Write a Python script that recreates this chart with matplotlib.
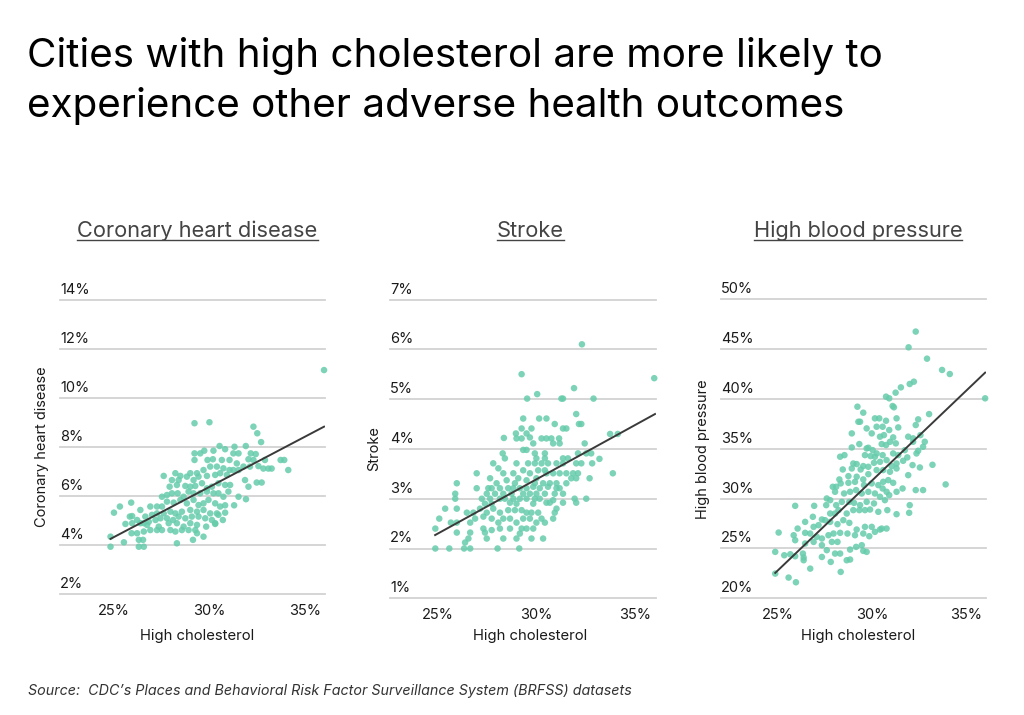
import numpy as np
import matplotlib
matplotlib.use("Agg")
import matplotlib.pyplot as plt
import matplotlib.transforms as mtransforms
from matplotlib.lines import Line2D

plt.rcParams['font.family'] = ['Inter', 'DejaVu Sans']

W, H = 1024, 715

# ---- data (high cholesterol %, outcome %) ----
chd_pts = [
    (36.00, 11.14), (29.23, 8.97), (30.01, 9.01), (32.31, 8.83), (32.51, 8.56), (32.71, 8.20),
    (31.91, 8.04), (31.32, 8.01), (30.83, 7.91), (30.54, 8.04), (30.22, 7.85), (29.74, 7.85),
    (29.53, 7.74), (29.23, 7.74), (31.53, 7.74), (31.26, 7.74), (32.17, 7.74), (32.43, 7.71),
    (32.05, 7.50), (32.31, 7.47), (32.91, 7.47), (33.73, 7.47), (33.92, 7.47), (34.13, 7.06),
    (29.23, 7.47), (29.91, 7.47), (30.19, 7.50), (30.66, 7.47), (31.06, 7.47), (31.44, 7.33),
    (31.79, 7.20), (32.13, 7.20), (32.57, 7.22), (32.83, 7.12), (33.09, 7.12), (33.26, 7.12),
    (28.23, 6.93), (28.49, 6.82), (29.01, 6.93), (29.36, 6.93), (29.70, 7.06), (30.05, 7.20),
    (30.40, 7.20), (30.74, 7.13), (31.06, 7.06), (31.26, 7.06), (31.53, 7.06),
    (27.62, 6.82), (28.05, 6.65), (28.40, 6.65), (28.83, 6.79), (29.18, 6.65), (29.44, 6.79),
    (29.88, 6.82), (30.31, 6.86), (30.57, 6.93), (30.92, 6.86),
    (27.93, 6.38), (28.31, 6.45), (28.75, 6.41), (29.01, 6.38), (29.27, 6.41), (29.62, 6.52),
    (29.88, 6.31), (30.14, 6.38), (30.48, 6.52), (30.83, 6.45), (31.09, 6.45), (31.87, 6.65),
    (32.05, 6.38), (32.48, 6.55), (32.74, 6.55),
    (27.53, 5.97), (27.79, 6.04), (28.05, 6.11), (28.35, 6.11), (28.66, 5.97), (28.92, 6.18),
    (29.18, 6.11), (29.53, 6.11), (29.88, 6.18), (30.22, 6.11), (30.48, 6.11), (30.74, 5.97),
    (31.00, 6.18), (31.53, 5.97), (31.92, 5.87), (31.30, 5.62),
    (26.92, 5.57), (27.27, 5.57), (27.53, 5.57), (27.79, 5.77), (28.14, 5.73), (28.49, 5.84),
    (28.83, 5.70), (29.18, 5.84), (29.44, 5.63), (29.70, 5.70), (29.96, 5.84), (30.31, 5.70),
    (30.57, 5.57), (30.83, 5.62),
    (25.92, 5.73), (25.33, 5.57), (25.02, 5.32), (26.40, 5.43), (26.66, 5.16), (27.01, 5.23),
    (27.27, 5.29), (27.62, 5.29), (27.97, 5.36), (28.23, 5.29), (28.57, 5.36), (29.01, 5.43),
    (29.36, 5.36), (29.70, 5.43), (30.05, 5.29), (30.40, 5.29), (30.83, 5.32),
    (25.85, 5.16), (25.97, 5.18), (26.23, 5.02), (26.58, 4.89), (26.84, 4.95), (27.19, 5.02),
    (27.45, 5.09), (27.79, 5.09), (28.11, 5.02), (28.40, 5.16), (28.75, 5.09), (29.09, 5.16),
    (29.44, 5.16), (29.79, 5.09), (30.14, 5.02), (30.48, 5.23), (30.71, 5.02),
    (25.62, 4.86), (25.97, 4.89), (26.40, 4.89), (26.75, 4.82), (27.36, 4.75), (27.88, 4.89),
    (28.31, 4.89), (28.66, 4.75), (29.01, 4.89), (29.36, 4.82), (29.84, 4.75), (30.31, 4.86),
    (24.84, 4.34), (25.94, 4.48), (26.23, 4.48), (26.58, 4.55), (26.92, 4.61), (27.27, 4.61),
    (27.53, 4.61), (27.97, 4.61), (28.23, 4.55), (28.57, 4.61), (28.92, 4.61), (29.27, 4.61),
    (29.36, 4.48),
    (24.84, 3.93), (25.54, 4.11), (26.32, 4.21), (26.54, 4.21), (26.32, 3.93), (26.58, 3.93),
    (28.31, 4.07), (29.15, 4.21), (29.70, 4.34), (30.31, 4.89),
]

stroke_pts = [
    (32.29, 6.10), (35.96, 5.42), (29.23, 5.50), (30.02, 5.10), (29.51, 5.01), (31.25, 5.01),
    (31.33, 5.01), (31.89, 5.22), (32.88, 5.01), (32.00, 4.70), (32.26, 4.50), (32.14, 4.50),
    (30.91, 4.50), (31.33, 4.41), (31.50, 4.41), (29.31, 4.61), (30.12, 4.61), (30.49, 4.61),
    (29.23, 4.41), (29.73, 4.41), (28.94, 4.31), (29.48, 4.31), (29.65, 4.23), (28.33, 4.22),
    (28.97, 4.21), (29.23, 4.21), (30.24, 4.21), (30.49, 4.21), (30.74, 4.21), (31.13, 4.21),
    (30.83, 4.11), (29.82, 4.11), (31.16, 4.11), (33.72, 4.30), (34.11, 4.30),
    (29.31, 3.98), (29.48, 3.98), (28.27, 3.91), (28.38, 3.81), (29.90, 3.91), (30.41, 3.91),
    (29.98, 3.81), (30.41, 3.81), (31.33, 3.81), (31.58, 3.81), (32.09, 3.91), (32.43, 4.11),
    (32.51, 3.91), (32.76, 3.91), (33.18, 3.80), (27.79, 3.71), (28.05, 3.61), (28.97, 3.71),
    (29.56, 3.71), (29.90, 3.71), (30.24, 3.71), (30.57, 3.71), (31.00, 3.71), (31.33, 3.71),
    (32.00, 3.71), (32.26, 3.71), (32.81, 3.71), (33.86, 3.51),
    (26.95, 3.51), (27.63, 3.41), (28.30, 3.51), (28.81, 3.51), (29.31, 3.57), (29.65, 3.51),
    (30.07, 3.57), (30.41, 3.57), (30.49, 3.51), (30.83, 3.51), (31.16, 3.51), (31.50, 3.51),
    (31.84, 3.51), (32.09, 3.51), (29.98, 3.41), (29.06, 3.41), (29.48, 3.37), (28.47, 3.37),
    (27.96, 3.31), (28.89, 3.31), (29.90, 3.31), (30.32, 3.31), (30.66, 3.31), (31.00, 3.31),
    (31.50, 3.31), (31.75, 3.41), (32.00, 3.41), (32.68, 3.41),
    (25.94, 3.31), (26.95, 3.21), (27.54, 3.21), (27.71, 3.21), (28.13, 3.21), (28.55, 3.21),
    (28.81, 3.21), (29.14, 3.21), (29.48, 3.21), (29.82, 3.24), (30.15, 3.21), (30.57, 3.24),
    (31.00, 3.21), (31.16, 3.21), (25.86, 3.10), (27.46, 3.10), (27.88, 3.10), (28.30, 3.10),
    (28.72, 3.10), (29.31, 3.10), (29.65, 3.10), (29.98, 3.10), (30.41, 3.10), (30.91, 3.10),
    (31.33, 3.10),
    (25.86, 3.00), (27.21, 3.00), (27.63, 3.00), (28.13, 3.00), (28.38, 3.00), (28.81, 3.00),
    (29.14, 3.00), (29.48, 3.00), (29.90, 3.00), (30.15, 3.00), (30.49, 2.92), (30.83, 2.97),
    (31.33, 2.92), (31.92, 3.00), (32.51, 3.00), (32.00, 2.92), (27.37, 2.90), (27.71, 2.90),
    (28.64, 2.92), (28.97, 2.90), (29.82, 2.90), (30.66, 2.92),
    (25.35, 2.80), (25.94, 2.80), (26.45, 2.72), (26.78, 2.72), (27.12, 2.80), (27.46, 2.72),
    (27.79, 2.80), (28.13, 2.72), (28.55, 2.77), (28.89, 2.77), (29.23, 2.77), (29.48, 2.72),
    (29.73, 2.72), (30.07, 2.72), (30.91, 2.72), (31.00, 2.80),
    (25.05, 2.60), (25.64, 2.52), (25.94, 2.52), (26.62, 2.52), (26.87, 2.60), (27.29, 2.64),
    (27.71, 2.60), (28.05, 2.52), (28.30, 2.60), (28.64, 2.60), (28.97, 2.52), (29.31, 2.60),
    (29.65, 2.60), (29.98, 2.52), (30.41, 2.52), (30.83, 2.60), (30.24, 2.60),
    (24.85, 2.40), (25.94, 2.32), (26.62, 2.32), (27.29, 2.40), (27.71, 2.37), (27.37, 2.32),
    (28.13, 2.40), (28.64, 2.40), (29.23, 2.40), (29.48, 2.40), (29.82, 2.40),
    (26.53, 2.20), (26.36, 2.12), (27.46, 2.20), (28.30, 2.20), (28.97, 2.20), (29.14, 2.30),
    (29.73, 2.20), (30.32, 2.20),
    (24.85, 2.00), (25.56, 2.00), (26.31, 2.00), (26.62, 2.00), (28.01, 2.00), (29.11, 2.00),
]

hbp_pts = [
    (32.31, 46.77), (31.93, 45.19), (32.91, 44.05), (33.71, 42.92), (34.12, 42.51), (36.00, 40.07),
    (32.21, 41.74), (31.99, 41.51), (31.52, 41.17), (31.24, 40.64), (30.73, 40.24), (30.90, 40.07),
    (31.08, 39.30), (31.15, 39.17), (29.21, 39.23), (29.52, 38.63), (29.26, 37.72), (29.35, 37.72),
    (30.14, 38.06), (30.37, 38.06), (30.73, 37.82), (31.29, 38.06), (33.02, 38.49), (32.44, 37.96),
    (32.31, 37.39), (29.70, 37.05), (30.23, 37.22), (30.55, 37.22), (30.90, 36.89), (31.38, 37.15),
    (28.91, 36.55), (29.97, 36.55), (30.41, 36.22), (30.62, 36.38), (31.11, 36.15), (31.91, 36.22),
    (32.17, 35.71), (32.56, 36.38), (32.79, 35.71), (32.70, 35.21),
    (28.91, 35.14), (29.31, 35.48), (29.70, 35.04), (29.79, 35.11), (30.02, 34.87), (30.23, 34.54),
    (30.50, 35.48), (30.73, 35.38), (30.94, 35.71), (31.25, 35.55), (32.17, 36.05),
    (28.29, 34.21), (28.52, 34.37), (29.61, 34.37), (29.91, 34.27), (30.14, 34.21), (30.55, 34.37),
    (31.11, 34.54), (31.38, 34.37), (31.73, 34.87), (31.86, 34.14), (32.35, 34.54), (32.44, 34.81),
    (28.99, 33.53), (29.17, 33.47), (29.52, 33.27), (29.79, 33.20), (30.09, 33.60), (30.41, 33.70),
    (30.76, 33.87), (31.03, 33.27), (31.29, 33.53), (31.64, 33.80), (32.14, 33.37), (32.53, 33.13),
    (33.20, 33.40),
    (28.43, 32.93), (28.91, 33.03), (29.38, 32.93), (29.79, 32.46), (30.23, 32.87), (30.58, 32.87),
    (30.94, 32.70), (31.29, 33.03), (31.91, 32.36), (28.73, 32.26), (28.25, 31.93), (29.17, 32.20),
    (29.52, 31.93),
    (27.90, 31.19), (28.08, 31.19), (28.32, 31.53), (28.73, 31.59), (29.08, 31.69), (29.56, 31.36),
    (29.97, 31.53), (30.32, 31.36), (30.58, 31.69), (30.85, 31.86), (31.11, 31.59), (32.70, 30.86),
    (33.90, 31.43),
    (27.58, 30.02), (27.76, 29.85), (28.02, 30.69), (28.50, 30.52), (28.82, 30.69), (29.14, 30.86),
    (29.44, 30.52), (29.79, 30.69), (30.14, 30.52), (30.55, 31.02), (30.76, 30.69), (31.29, 30.69),
    (31.61, 31.02), (32.31, 30.86),
    (27.55, 29.35), (28.08, 29.35), (28.38, 29.68), (28.78, 29.68), (29.03, 29.58), (29.35, 29.35),
    (29.70, 29.68), (30.09, 29.52), (30.41, 30.19), (30.67, 29.85), (30.90, 30.35), (25.90, 29.28),
    (26.91, 29.28),
    (26.43, 27.67), (26.84, 28.18), (27.32, 27.91), (27.76, 28.51), (28.02, 28.51), (28.20, 28.85),
    (28.64, 28.51), (28.99, 28.85), (29.31, 28.85), (29.61, 28.85), (29.88, 28.91), (30.32, 28.68),
    (30.80, 28.85), (31.29, 28.44), (31.96, 28.58), (31.99, 29.35),
    (26.03, 27.00), (26.88, 27.17), (27.14, 27.34), (27.49, 27.84), (27.76, 27.67), (28.15, 27.44),
    (28.46, 27.84), (28.78, 27.57), (29.17, 26.90), (29.61, 27.17), (29.97, 27.17), (30.41, 26.90),
    (30.76, 27.00),
    (25.02, 26.60), (25.82, 26.33), (25.90, 25.83), (26.43, 26.57), (26.70, 26.50), (27.05, 26.17),
    (27.32, 26.00), (27.67, 26.33), (27.94, 26.50), (28.29, 26.57), (28.68, 26.50), (29.08, 26.33),
    (29.52, 26.50), (29.84, 26.23), (30.14, 26.67), (30.50, 27.00),
    (26.43, 25.50), (26.88, 25.66), (27.32, 25.33), (27.85, 25.66), (28.15, 25.66), (28.82, 24.89),
    (29.14, 25.16), (29.44, 25.33), (29.52, 24.76), (29.70, 24.66), (27.58, 24.83), (28.02, 24.49),
    (28.29, 24.49),
    (24.84, 24.66), (25.32, 24.32), (25.64, 24.42), (26.31, 24.49), (26.35, 24.09), (27.32, 24.15),
    (28.64, 23.82), (28.82, 23.89), (27.79, 23.65), (26.70, 22.98), (28.32, 22.65),
    (24.84, 22.48), (25.55, 22.08), (25.94, 21.61), (26.35, 23.82), (25.90, 24.22),
]

# trend lines as drawn in the picture (endpoints at min / max cholesterol)
fit_x = [24.84, 36.0]
chd_fit = [4.25, 8.83]
stroke_fit = [2.27, 4.70]
hbp_fit = [22.55, 42.65]

x_ticks = [25, 30, 35]
chd_ticks = [2, 4, 6, 8, 10, 12, 14]
stroke_ticks = [1, 2, 3, 4, 5, 6, 7]
hbp_ticks = [20, 25, 30, 35, 40, 45, 50]

titles = ['Coronary heart disease', 'Stroke', 'High blood pressure']
xlabel = 'High cholesterol'

DOT = '#66ccab'
GRID = '#d2d2d2'
TXT = '#1a1a1a'
SUB = '#444444'


def fx(px):
    return px / W


def fy(py):
    return 1 - py / H


panels = [
    dict(pts=chd_pts, fit=chd_fit, ticks=chd_ticks, title=titles[0],
         box=(60, 325, 300, 594), xlim=(22.2, 36.05), cx=197.5, ylab_x=42),
    dict(pts=stroke_pts, fit=stroke_fit, ticks=stroke_ticks, title=titles[1],
         box=(390, 656, 299.5, 598.3), xlim=(22.55, 36.05), cx=530, ylab_x=374),
    dict(pts=hbp_pts, fit=hbp_fit, ticks=hbp_ticks, title=titles[2],
         box=(720.7, 985.7, 299.4, 598.3), xlim=(21.94, 36.03), cx=858, ylab_x=703),
]

fig = plt.figure(figsize=(W / 100, H / 100), dpi=100)
fig.patch.set_facecolor('white')

fig.text(fx(27), fy(66.7), 'Cities with high cholesterol are more likely to',
         fontsize=29.1, color='black', va='baseline', ha='left')
fig.text(fx(27), fy(116.7), 'experience other adverse health outcomes',
         fontsize=29.1, color='black', va='baseline', ha='left')

sub_titles = []
for p in panels:
    l, r, t, b = p['box']
    ax = fig.add_axes([fx(l), fy(b), (r - l) / W, (b - t) / H])
    pts = np.array(p['pts'])
    ticks = p['ticks']
    ax.set_xlim(*p['xlim'])
    ax.set_ylim(ticks[0], ticks[-1])
    for s in ax.spines.values():
        s.set_visible(False)
    ax.set_yticks([])
    ax.set_xticks(x_ticks)
    ax.set_xticklabels([f'{v}%' for v in x_ticks])
    ax.tick_params(axis='x', length=0, pad=7, labelsize=10.5, labelcolor=TXT)

    trans = mtransforms.offset_copy(ax.get_yaxis_transform(), fig=fig, y=3, units='dots')
    for v in ticks:
        ax.axhline(v, color=GRID, lw=1.3, zorder=0, clip_on=False)
        ax.text(0, v, f'{v}%', transform=trans, ha='left', va='bottom',
                fontsize=10.5, color=TXT)

    ax.scatter(pts[:, 0], pts[:, 1], s=22, color=DOT, alpha=0.85,
               edgecolors='none', zorder=2, clip_on=False)
    ax.plot(fit_x, p['fit'], color='#3a3a3a', lw=1.4, zorder=3)

    fig.text(fx(p['ylab_x']), fy((t + b) / 2), p['title'], rotation=90,
             ha='center', va='center', fontsize=10.5, color=TXT)
    fig.text(fx(p['cx']), fy(640), xlabel, ha='center', va='baseline',
             fontsize=10.7, color=TXT)
    st = fig.text(fx(p['cx']), fy(236.7), p['title'], ha='center', va='baseline',
                  fontsize=15.7, color=SUB)
    sub_titles.append(st)

fig.text(fx(28), fy(695), "Source:  CDC\u2019s Places and Behavioral Risk Factor Surveillance System (BRFSS) datasets",
         ha='left', va='baseline', fontsize=10.3, style='italic', color='#333333')

# underline the panel titles
fig.canvas.draw()
renderer = fig.canvas.get_renderer()
for st in sub_titles:
    bb = st.get_window_extent(renderer)
    yline = fy(239.5)
    fig.add_artist(Line2D([bb.x0 / W, bb.x1 / W], [yline, yline],
                          transform=fig.transFigure, color=SUB, lw=1.0))

fig.savefig('out.png', dpi=100)
